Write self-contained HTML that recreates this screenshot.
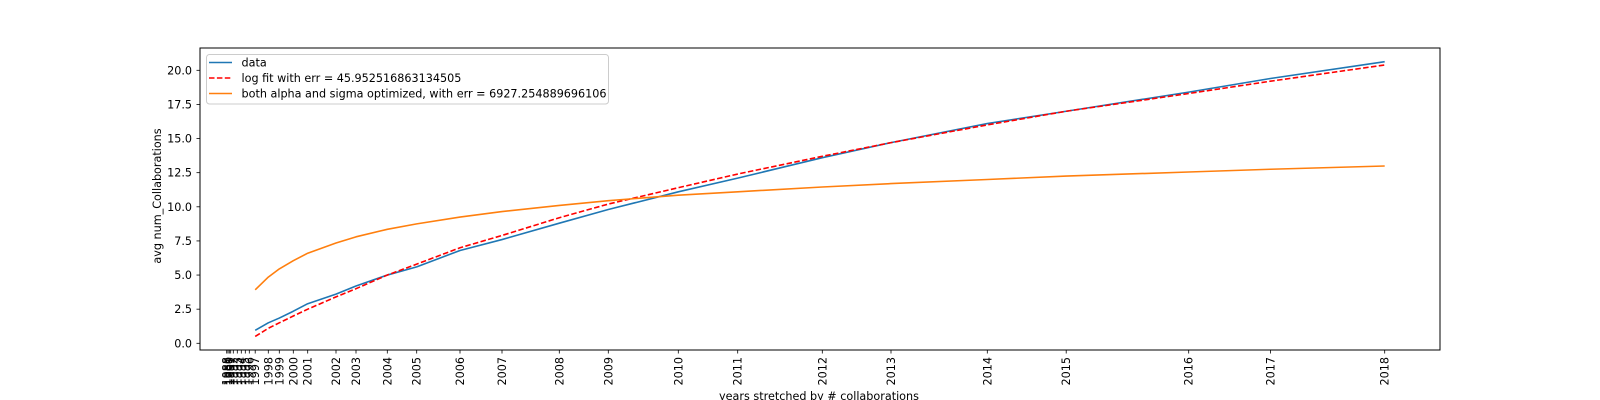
<!DOCTYPE html>
<html><head><meta charset="utf-8"><style>
html,body{margin:0;padding:0;background:#fff;width:1600px;height:400px;overflow:hidden}
svg text{font-family:"DejaVu Sans","Liberation Sans",sans-serif;fill:#000}
</style></head><body>
<svg id="chart" width="1600" height="400" xmlns="http://www.w3.org/2000/svg">
<g id="plot"></g>
</svg>
<script>
const years=[1988,1989,1990,1991,1992,1993,1994,1995,1996,1997,1998,1999,2000,2001,2002,2003,2004,2005,2006,2007,2008,2009,2010,2011,2012,2013,2014,2015,2016,2017,2018];
const stretch=[0,13,26,40,66,106,146,186,226,285,416,526,666,810,1093,1293,1606,1900,2333,2753,3326,3816,4516,5110,5956,6643,7606,8395,9620,10437,11580];
const dataYears=[1997,1998,1999,2000,2001,2002,2003,2004,2005,2006,2007,2008,2009,2010,2011,2012,2013,2014,2015,2016,2017,2018];
const dataValues=[0.95,1.5,1.85,2.35,2.9,3.6,4.2,5.0,5.6,6.8,7.6,8.8,9.8,11.1,12.1,13.6,14.7,16.1,17.0,18.4,19.4,20.63];
const logFitValues=[0.5,1.1,1.5,2.0,2.5,3.4,4.0,5.0,5.8,7.0,7.9,9.2,10.2,11.4,12.4,13.7,14.7,16.0,17.0,18.3,19.2,20.39];
const optValues=[3.92,4.85,5.45,6.05,6.6,7.35,7.8,8.35,8.75,9.25,9.65,10.1,10.45,10.85,11.1,11.45,11.7,12.0,12.25,12.55,12.75,12.99];
const yTicks=[0,2.5,5,7.5,10,12.5,15,17.5,20];
const yTickLabels=["0.0","2.5","5.0","7.5","10.0","12.5","15.0","17.5","20.0"];

const L=200,R=1440,T=48,B=350;
const xMin=-267,xMax=12133;
const X=v=>L+(v-xMin)/(xMax-xMin)*(R-L);
const Y=v=>343.3-v*13.65;
const FS='11.2';
const ns="http://www.w3.org/2000/svg";
const g=document.getElementById('plot');
function mk(tag,attrs,parent){const e=document.createElementNS(ns,tag);for(const k in attrs)e.setAttribute(k,attrs[k]);(parent||g).appendChild(e);return e;}
const xOf=y=>X(stretch[years.indexOf(y)]);

function series(vals,color,dash,name){
  const pts=dataYears.map((y,i)=>xOf(y).toFixed(2)+','+Y(vals[i]).toFixed(2)).join(' ');
  const p=mk('polyline',{points:pts,fill:'none',stroke:color,'stroke-width':1.6,'stroke-linejoin':'round'});
  if(dash)p.setAttribute('stroke-dasharray',dash);
  
  
}
series(dataValues,'#1f77b4',null,'data-line');
series(logFitValues,'#ff0000','5.5,2.4','log-fit-line');
series(optValues,'#ff7f0e',null,'optimized-fit-line');

const fr=mk('rect',{x:L,y:T,width:R-L,height:B-T,fill:'none',stroke:'#000','stroke-width':1});



yTicks.forEach((v,i)=>{
  const y=Y(v);
  mk('line',{x1:L-3.5,x2:L,y1:y,y2:y,stroke:'#000','stroke-width':0.8});
  const t=mk('text',{x:L-8,y:y+4,'text-anchor':'end','font-size':FS});
  t.textContent=yTickLabels[i];
  
  
});
years.forEach((yr,i)=>{
  const x=X(stretch[i]);
  mk('line',{x1:x,x2:x,y1:B,y2:B+3.5,stroke:'#000','stroke-width':0.8});
  const t=mk('text',{x:0,y:0,'text-anchor':'end','font-size':FS,transform:`translate(${x+4},${B+7}) rotate(-90)`});
  t.textContent=String(yr);
  
  
});
const yt=mk('text',{x:0,y:0,'text-anchor':'middle','font-size':FS,transform:'translate(161,196) rotate(-90)'});
yt.textContent='avg num_Collaborations';


const xt=mk('text',{x:819,y:400,'text-anchor':'middle','font-size':FS});
xt.textContent='years stretched by # collaborations';



const lg=mk('g',{});


mk('rect',{x:206.5,y:54.5,width:402,height:49.5,rx:3,fill:'#fff','fill-opacity':0.8,stroke:'#ccc','stroke-width':1},lg);
const entries=[['data','#1f77b4',null,62.5],['log fit with err = 45.952516863134505','#ff0000','5.5,2.4',78],['both alpha and sigma optimized, with err = 6927.254889696106','#ff7f0e',null,93.5]];
entries.forEach(e=>{
  const eg=mk('g',{},lg);
  
  
  const l=mk('line',{x1:209,x2:232,y1:e[3],y2:e[3],stroke:e[1],'stroke-width':1.6},eg);
  if(e[2])l.setAttribute('stroke-dasharray',e[2]);
  const t=mk('text',{x:241.5,y:e[3]+4,'font-size':FS},eg);
  t.textContent=e[0];
});
</script>
</body></html>
